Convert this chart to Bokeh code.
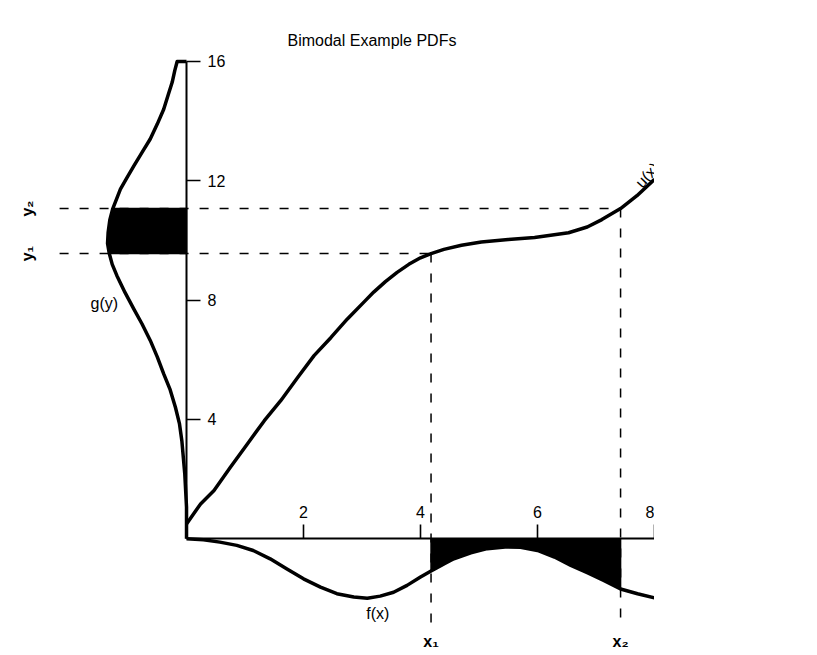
from bokeh.plotting import figure
from bokeh.models import LinearAxis, FixedTicker, Range1d
from bokeh.core.properties import value
from bokeh.embed import file_html
from bokeh.resources import INLINE

# ---- data ----
x_ticks = [2, 4, 6, 8]
y_ticks = [4, 8, 12, 16]

# u(x): transfer function
u_x = [0.0, 0.24, 0.47, 0.75, 1.04, 1.33, 1.61, 1.9, 2.18, 2.47, 2.75, 3.04, 3.2,
       3.4, 3.6, 3.8, 4.0, 4.18, 4.4, 4.7, 5.04, 5.5, 5.95, 6.53, 6.85, 7.1, 7.42,
       7.7, 8.0]
u_y = [0.5, 1.17, 1.62, 2.4, 3.18, 3.96, 4.63, 5.41, 6.14, 6.75, 7.37, 7.95, 8.27,
       8.62, 8.93, 9.2, 9.42, 9.56, 9.7, 9.84, 9.95, 10.03, 10.1, 10.26, 10.45, 10.7,
       11.07, 11.5, 12.05]

# f(x): pdf of x, drawn hanging below the x axis
f_x = [0.0, 0.29, 0.57, 0.86, 1.14, 1.43, 1.71, 2.0, 2.29, 2.57, 2.86, 3.09, 3.31,
       3.54, 3.77, 4.0, 4.18, 4.4, 4.57, 4.86, 5.14, 5.49, 5.71, 6.0, 6.29, 6.57,
       6.86, 7.14, 7.42, 7.71, 8.0]
f_val = [0.0, 0.03, 0.11, 0.22, 0.39, 0.67, 1.0, 1.34, 1.62, 1.84, 1.95, 1.99, 1.92,
         1.79, 1.56, 1.28, 1.08, 0.84, 0.67, 0.47, 0.33, 0.27, 0.28, 0.39, 0.61, 0.89,
         1.14, 1.4, 1.68, 1.84, 1.98]

# g(y): pdf of y, drawn to the left of the y axis
g_y = [0.0, 1.06, 2.18, 3.29, 3.85, 4.41, 5.0, 5.53, 6.1, 6.65, 7.2, 7.7, 8.25, 8.82,
       9.2, 9.56, 9.9, 10.27, 10.7, 11.07, 11.72, 12.1, 12.5, 12.95, 13.4, 13.9, 14.4,
       14.9, 15.3, 15.7, 16.0, 16.0]
g_val = [0.0, 0.0, 0.03, 0.08, 0.12, 0.19, 0.28, 0.39, 0.5, 0.62, 0.76, 0.9, 1.05, 1.19,
         1.27, 1.32, 1.35, 1.34, 1.31, 1.26, 1.13, 1.02, 0.9, 0.76, 0.62, 0.5, 0.39,
         0.31, 0.245, 0.2, 0.16, 0.0]

x1, x2 = 4.18, 7.42
y1, y2 = 9.56, 11.07

FONT = "Liberation Sans"

p = figure(width=654, height=652,
           x_range=Range1d(-3.18, 8), y_range=Range1d(-3.81, 16.3),
           x_axis_location=None, y_axis_location=None,
           output_backend="svg", toolbar_location=None,
           min_border=0, min_border_top=52)
p.outline_line_color = None
p.grid.visible = False
p.background_fill_color = "white"

p.title.text = "Bimodal Example PDFs"
p.title.align = "left"
p.title.offset = 287
p.title.text_font = FONT
p.title.text_font_size = "16px"
p.title.text_font_style = "normal"
p.title.text_color = "black"
p.title.standoff = 7

def style_axis(ax):
    ax.axis_line_width = 2
    ax.axis_line_color = "black"
    ax.major_tick_line_width = 1.6
    ax.major_tick_line_color = "black"
    ax.minor_tick_line_color = None
    ax.major_tick_in = 0
    ax.major_tick_out = 14
    ax.major_label_standoff = 7
    ax.major_label_text_font = FONT
    ax.major_label_text_font_size = "16px"
    ax.major_label_text_color = "black"

xaxis = LinearAxis(fixed_location=0, bounds=(0, 8), ticker=FixedTicker(ticks=x_ticks))
style_axis(xaxis)
p.add_layout(xaxis, "above")

yaxis = LinearAxis(fixed_location=0, bounds=(0, 16), ticker=FixedTicker(ticks=y_ticks))
style_axis(yaxis)
yaxis.major_label_orientation = "horizontal"
p.add_layout(yaxis, "right")

# dashed guide lines (drawn first so the shaded areas sit on top)
guide_left = -2.17
guide_bottom = -2.9
dash = "9 11"
p.line([guide_left, x1], [y1, y1], line_dash=dash, line_color="black", line_width=1.5)
p.line([guide_left, x2], [y2, y2], line_dash=dash, line_color="black", line_width=1.5)
p.line([x1, x1], [y1, guide_bottom], line_dash=dash, line_color="black", line_width=1.5)
p.line([x2, x2], [y2, guide_bottom], line_dash=dash, line_color="black", line_width=1.5)

# shaded probability regions (polygons: axis -> curve -> axis)
fx_sel = [x for x in f_x if x1 <= x <= x2]
fv_sel = [-v for x, v in zip(f_x, f_val) if x1 <= x <= x2]
p.patch([fx_sel[0]] + fx_sel + [fx_sel[-1]], [0] + fv_sel + [0],
        fill_color="black", line_color="black", line_width=1.5)

gy_sel = [y for y in g_y[:-1] if y1 <= y <= y2]
gv_sel = [-v for y, v in zip(g_y[:-1], g_val[:-1]) if y1 <= y <= y2]
p.patch([0] + gv_sel + [0], [gy_sel[0]] + gy_sel + [gy_sel[-1]],
        fill_color="black", line_color="black", line_width=1.5)

# curves
p.line(u_x, u_y, line_color="black", line_width=3.5, line_join="round")
p.line(f_x, [-v for v in f_val], line_color="black", line_width=3.5, line_join="round")
p.line([-v for v in g_val], g_y, line_color="black", line_width=3.5, line_join="round")

# labels
p.text(x=[-1.17], y=[7.88], text=["g(y)"], text_align="right", text_baseline="middle",
       text_font=value(FONT), text_font_size="16px", text_color="black")
p.text(x=[3.27], y=[-2.49], text=["f(x)"], text_align="center", text_baseline="middle",
       text_font=value(FONT), text_font_size="16px", text_color="black")
p.text(x=[7.72], y=[11.85], text=["u(x)"], angle=0.82, text_align="left",
       text_baseline="alphabetic", text_font=value(FONT), text_font_size="16px",
       text_color="black")
p.text(x=[x1, x2], y=[-3.45, -3.45], text=["x\u2081", "x\u2082"], text_align="center",
       text_baseline="middle", text_font=value(FONT), text_font_size="16px",
       text_font_style="bold", text_color="black")
p.text(x=[-2.72, -2.72], y=[y1, y2], text=["y\u2081", "y\u2082"], angle=1.5708,
       text_align="center", text_baseline="middle", text_font=value(FONT),
       text_font_size="16px", text_font_style="bold", text_color="black")

open("out.html", "w").write(file_html(p, INLINE))
